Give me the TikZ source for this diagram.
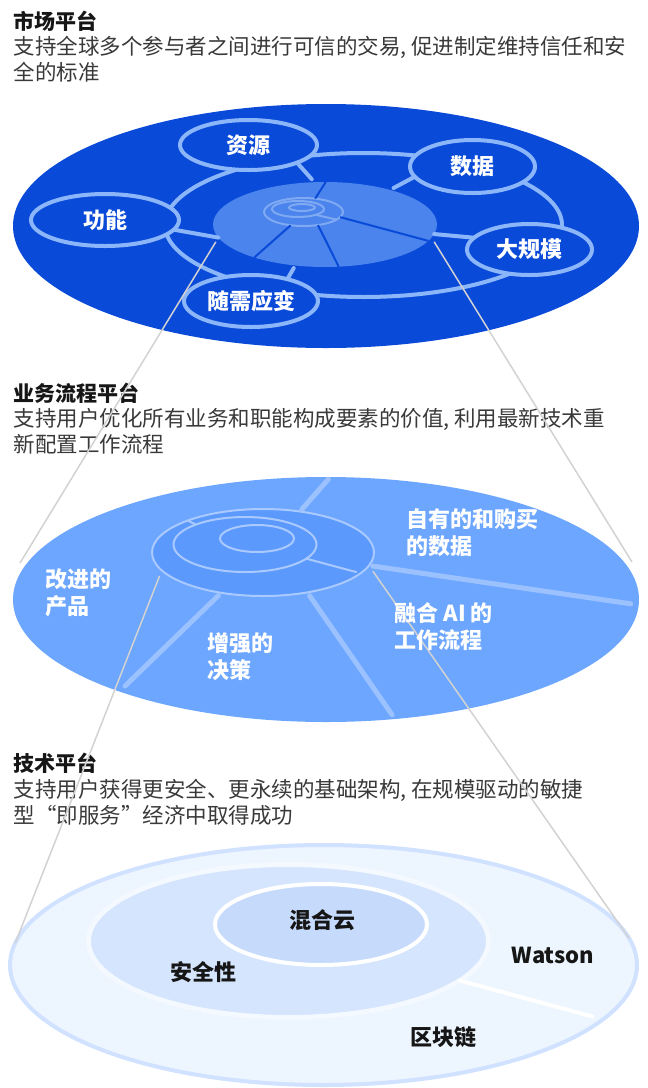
\documentclass[tikz,border=0pt]{standalone}
\usepackage{fontspec}
\setmainfont{Noto Sans CJK SC}
\usetikzlibrary{shapes.geometric}

\definecolor{mktBlue}{HTML}{0A4AD8}
\definecolor{hubBlue}{HTML}{4A84EC}
\definecolor{ringBlue}{HTML}{8CB6FA}
\definecolor{hubRing}{HTML}{7FA9F2}
\definecolor{midBlue}{HTML}{6CA6FE}
\definecolor{midHub}{HTML}{5B9AFC}
\definecolor{midRing}{HTML}{A9C9FF}
\definecolor{midSpoke}{HTML}{9CC1FF}
\definecolor{techFill}{HTML}{EDF5FF}
\definecolor{techEdge}{HTML}{D0E2FF}
\definecolor{techMidFill}{HTML}{D5E5FD}
\definecolor{techMidEdge}{HTML}{F4F8FF}
\definecolor{techInFill}{HTML}{C6DBFC}
\definecolor{grayLine}{HTML}{D2D2D2}
\definecolor{ink}{HTML}{161616}
\definecolor{inkGray}{HTML}{393939}

\tikzset{
  disc/.style={ellipse,inner sep=0pt,outer sep=0pt},
  bubble/.style={disc,draw=ringBlue,line width=4pt,fill=mktBlue,text=white,
    font=\bfseries\fontsize{22}{26}\selectfont},
  hubring/.style={disc,draw=hubRing,line width=2pt},
  procring/.style={disc,draw=midRing,line width=2pt},
  stub/.style={draw=ringBlue,line width=4pt,line cap=round},
  cut/.style={draw=mktBlue,line width=2pt},
  spoke/.style={draw=midSpoke,line width=5pt,line cap=round},
  zoomline/.style={draw=grayLine,line width=1.5pt},
  heading/.style={anchor=base west,text=ink,font=\bfseries\fontsize{21}{26}\selectfont},
  blurb/.style={anchor=base west,align=left,text=inkGray,font=\fontsize{21.5}{26}\selectfont},
  onblue/.style={anchor=base west,align=left,text=white,font=\bfseries\fontsize{22}{27}\selectfont},
  onpale/.style={text=ink,font=\bfseries\fontsize{22}{26}\selectfont}
}

\begin{document}
\begin{tikzpicture}[x=1pt,y=-1pt]
\useasboundingbox (0,0) rectangle (648,1088);

% market platform
\node[heading] (mktT) at (10,29.7) {市场平台};
\node[blurb] (mktD) at (10,80.9) {支持全球多个参与者之间进行可信的交易, 促进制定维持信任和安\\全的标准};
\node[disc,fill=mktBlue,minimum width=626pt,minimum height=244pt] (market) at (326,226) {};
\node[disc,draw=ringBlue,line width=4pt,minimum width=397pt,minimum height=144pt] (ring) at (363.5,225) {};
\node[disc,fill=hubBlue,minimum width=224pt,minimum height=85pt] (hub) at (325,224.5) {};
\foreach \nm/\cx/\cy/\w/\h/\txt in {res/248.5/145/137/50/资源,
    data/472.5/166.5/125/53/数据, func/105/220/148/52/功能,
    scale/529.5/249.5/125/51/大规模, demand/251/301/134/52/随需应变}
  {\node[bubble,minimum width=\w pt,minimum height=\h pt] (\nm) at (\cx,\cy) {\txt};}
\node[hubring,minimum width=79pt,minimum height=28pt] (hubA) at (303.5,212) {};
\node[hubring,minimum width=52pt,minimum height=16pt] (hubB) at (298,209) {};
\node[hubring,minimum width=26pt,minimum height=7pt] (hubC) at (302,207.5) {};
\draw[draw=hubRing,line width=2pt] (hubB.-18) -- (hubA.-13);
\draw[cut] (hub.89) -- (hubA.49);
\draw[cut] (hubA.-8) -- (hub.-9);
\draw[cut] (hubA.226) -- (hub.205);
\draw[cut] (hubA.-42) -- (hub.-72);
% stubs to the hub
\draw[stub,shorten >=4pt] (res.-20) -- (hub.104);
\draw[stub,shorten >=4pt] (data.190) -- (hub.28);
\draw[stub] (func.-8) -- (hub.187);
\draw[stub] (hub.-5) -- (scale.168);
\draw[stub,shorten <=3pt] (hub.234) -- (demand.31);

% business process platform
\node[heading] (procT) at (10,401.3) {业务流程平台};
\node[blurb] (procD) at (10,452.5) {支持用户优化所有业务和职能构成要素的价值, 利用最新技术重\\新配置工作流程};
\node[disc,fill=midBlue,minimum width=626pt,minimum height=245pt] (proc) at (326,599.5) {};
\node[procring,fill=midHub,minimum width=222pt,minimum height=87pt] (mhubA) at (263,552.5) {};
\node[procring,minimum width=143pt,minimum height=55pt] (mhubB) at (245,544.5) {};
\node[procring,minimum width=74pt,minimum height=27pt] (mhubC) at (257,538.5) {};
\draw[draw=midRing,line width=2pt] (mhubA.157) -- (mhubB.158);
\draw[draw=midRing,line width=2pt,shorten >=4pt] (mhubB.-13) -- (mhubA.-12);
\draw[spoke,shorten <=3pt,shorten >=3pt] (mhubA.48) -- (proc.88);
\draw[spoke,shorten <=4pt,shorten >=8pt] (mhubA.-7) -- (proc.-1);
\draw[spoke,shorten <=4pt,shorten >=8pt] (mhubA.224) -- (proc.204);
\draw[spoke,shorten <=4pt,shorten >=5pt] (mhubA.-42) -- (proc.-60);

% technology platform
\node[heading] (techT) at (10,771.3) {技术平台};
\node[blurb] (techD) at (10,823.2) {支持用户获得更安全、更永续的基础架构, 在规模驱动的敏捷\\型“即服务”经济中取得成功};
\node[disc,fill=techFill,draw=techEdge,line width=4pt,minimum width=627pt,minimum height=240pt] (tech) at (323.5,965) {};
\node[disc,fill=techMidFill,draw=techMidEdge,line width=5pt,minimum width=400pt,minimum height=153pt] (techMid) at (288.5,941) {};
\node[disc,fill=techInFill,draw=white,line width=4pt,minimum width=212pt,minimum height=81pt] (techIn) at (321,924.5) {};
\draw[white,line width=4pt,line cap=round,shorten >=11pt] (techMid.-13.5) -- (tech.-11.6);

% zoom lines between the layers
\coordinate (edgeL) at (20,563);
\coordinate (edgeR) at (632,562);
\draw[zoomline,shorten <=5pt] (hub.187) -- (edgeL);
\draw[zoomline,shorten <=5pt] (hub.-7) -- (edgeR);
\draw[zoomline,shorten <=6pt] (mhubA.190) -- (tech.176);
\draw[zoomline,shorten <=7pt] (mhubA.-7.5) -- (tech.5.6);

% labels
\node[onblue] (better) at (41.5,614.4) {改进的\\产品};
\node[onblue] (decide) at (204,678.7) {增强的\\决策};
\node[onblue] (owned) at (403,554.6) {自有的和购买\\的数据};
\node[onblue] (aiflow) at (391,648.7) {融合 AI 的\\工作流程};
\node[onpale] (cloud) at (322,920) {混合云};
\node[onpale] (secure) at (203.5,972) {安全性};
\node[onpale] (watson) at (553,955) {Watson};
\node[onpale] (chain) at (443,1037) {区块链};
\end{tikzpicture}
\end{document}
